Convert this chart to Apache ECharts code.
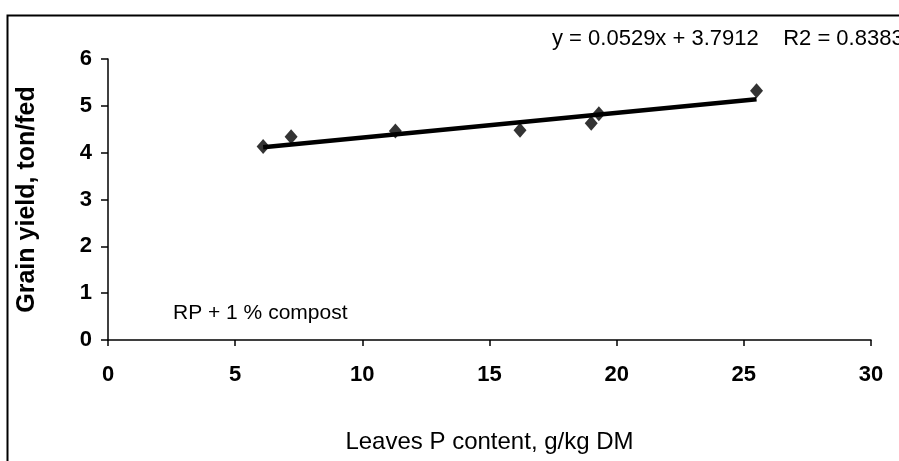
<!DOCTYPE html>
<html>
<head>
<meta charset="utf-8">
<script src="https://cdn.jsdelivr.net/npm/echarts@6/dist/echarts.min.js"></script>
<style>html,body{margin:0;padding:0;background:#fff}#c{width:899px;height:461px}</style>
</head>
<body>
<div id="c"></div>
<script>
const xValues = [6.1, 7.2, 11.3, 16.2, 19.0, 19.3, 25.5];
const yValues = [4.13, 4.34, 4.46, 4.48, 4.63, 4.83, 5.32];
const trendSlope = 0.0529;
const trendIntercept = 3.7912;
const trendR2 = 0.8383;
const xTicks = [0, 5, 10, 15, 20, 25, 30];
const yTicks = [0, 1, 2, 3, 4, 5, 6];
const annotation = 'RP + 1 % compost';

const points = xValues.map((x, i) => [x, yValues[i]]);
const xMin = Math.min(...xValues), xMax = Math.max(...xValues);
const trend = [[xMin, trendSlope * xMin + trendIntercept], [xMax, trendSlope * xMax + trendIntercept]];
const font = "'Liberation Sans', Arial, sans-serif";
const narrow = "'Liberation Sans Narrow', 'Liberation Sans', Arial, sans-serif";

const chart = echarts.init(document.getElementById('c'));
chart.setOption({
  animation: false,
  backgroundColor: '#fff',
  grid: { left: 108, right: 28, top: 59, bottom: 121, containLabel: false },
  xAxis: {
    type: 'value', min: xTicks[0], max: xTicks[xTicks.length - 1], interval: 5,
    axisLine: { lineStyle: { color: '#000', width: 1.5 } },
    axisTick: { show: true, inside: false, length: 6, lineStyle: { color: '#000', width: 1.5 } },
    splitLine: { show: false },
    axisLabel: { margin: 24, color: '#000', fontFamily: narrow, fontWeight: 'bold', fontSize: 22 },
    name: 'Leaves P content, g/kg DM', nameLocation: 'middle', nameGap: 90,
    nameTextStyle: { color: '#000', fontFamily: font, fontSize: 24 }
  },
  yAxis: {
    type: 'value', min: yTicks[0], max: yTicks[yTicks.length - 1], interval: 1,
    axisLine: { show: true, lineStyle: { color: '#000', width: 1.5 } },
    axisTick: { show: true, inside: false, length: 7, lineStyle: { color: '#000', width: 1.5 } },
    splitLine: { show: false },
    axisLabel: { margin: 16, color: '#000', fontFamily: narrow, fontWeight: 'bold', fontSize: 22 },
    name: 'Grain yield, ton/fed', nameLocation: 'middle', nameGap: 68, nameRotate: 90,
    nameTextStyle: { color: '#000', fontFamily: font, fontWeight: 'bold', fontSize: 25 }
  },
  series: [
    { type: 'line', data: trend, symbol: 'none', lineStyle: { color: '#000', width: 4.5 }, z: 2 },
    { type: 'scatter', data: points, symbol: 'diamond', symbolSize: [13, 15], itemStyle: { color: '#000' }, z: 3 }
  ],
  graphic: [
    { type: 'rect', left: 5, top: 13, shape: { width: 1000, height: 1000 }, style: { fill: 'none', stroke: '#000', lineWidth: 2 }, silent: true },
    { type: 'text', left: 552, top: 28, style: { text: 'y = ' + trendSlope + 'x + ' + trendIntercept + '    R2 = ' + trendR2, font: '22px ' + font, fill: '#000' } },
    { type: 'text', left: 173, top: 303, style: { text: annotation, font: '21px ' + font, fill: '#000' } }
  ]
});
</script>
</body>
</html>
